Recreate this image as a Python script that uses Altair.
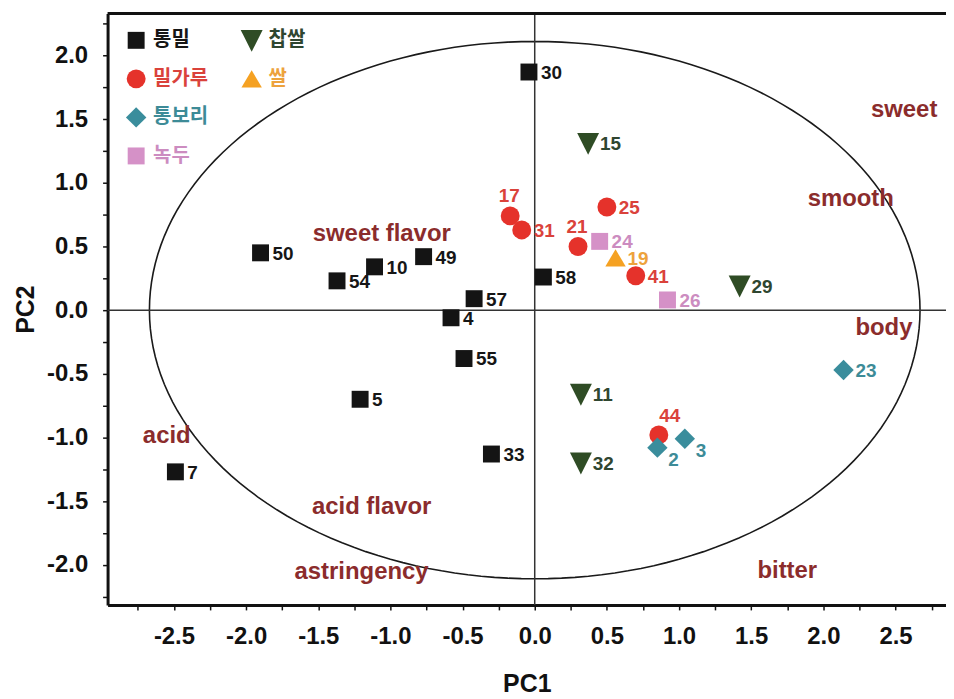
import altair as alt
import pandas as pd

# ---------------- data ----------------
ids = ["30", "50", "54", "10", "49", "57", "4", "55", "5", "58", "7", "33",
       "17", "31", "21", "25", "41", "44",
       "2", "3", "23",
       "24", "26",
       "15", "29", "11", "32",
       "19"]
groups = (["통밀"] * 12 + ["밀가루"] * 6 + ["통보리"] * 3 + ["녹두"] * 2
          + ["찹쌀"] * 4 + ["쌀"])
pc1 = [-0.04, -1.90, -1.37, -1.11, -0.77, -0.42, -0.58, -0.49, -1.21, 0.06, -2.49, -0.30,
       -0.17, -0.09, 0.30, 0.50, 0.70, 0.86,
       0.85, 1.04, 2.14,
       0.45, 0.92,
       0.37, 1.42, 0.32, 0.32,
       0.56]
pc2 = [1.87, 0.45, 0.23, 0.34, 0.42, 0.09, -0.06, -0.38, -0.70, 0.26, -1.27, -1.13,
       0.74, 0.63, 0.50, 0.81, 0.27, -0.98,
       -1.08, -1.01, -0.47,
       0.54, 0.08,
       1.31, 0.19, -0.66, -1.20,
       0.41]

# attribute loadings (text)
attr_names = ["sweet", "smooth", "body", "sweet flavor", "acid",
              "acid flavor", "astringency", "bitter"]
attr_pc1 = [2.56, 2.19, 2.42, -1.06, -2.55, -1.13, -1.20, 1.75]
attr_pc2 = [1.57, 0.87, -0.14, 0.60, -0.99, -1.55, -2.06, -2.05]

# legend
group_order = ["통밀", "밀가루", "통보리", "녹두", "찹쌀", "쌀"]
legend_col = [0, 0, 0, 0, 1, 1]
legend_row = [0, 1, 2, 3, 0, 1]

# ---------------- styles ----------------
marker_colors = ["#141414", "#e5322b", "#3a8d9c", "#d591c7", "#2f4c25", "#f5a122"]
label_colors = ["#161616", "#da423b", "#3d8b97", "#cc8cc0", "#2f4630", "#eda23c"]
shapes = ["square", "circle", "M-1,0L0,-1L1,0L0,1Z", "square",
          "M-1,-0.95L1,-0.95L0,1.05Z", "M0,-0.85L1,0.85L-1,0.85Z"]
sizes = [289, 361, 420, 289, 484, 420]
attr_color = "#8b2c2c"
FONT = "Liberation Sans"
KFONT = "Noto Sans CJK KR"

label_above = ["17", "21"]
label_above_right = ["44"]
label_below_right = ["2", "3"]

W, H = 842, 594
XDOM = [-2.96, 2.85]
YDOM = [-2.315, 2.33]

df = pd.DataFrame({"id": ids, "group": groups, "pc1": pc1, "pc2": pc2})
attr_df = pd.DataFrame({"name": attr_names, "pc1": attr_pc1, "pc2": attr_pc2})
leg_df = pd.DataFrame({"group": group_order, "col": legend_col, "row": legend_row})
zero_df = pd.DataFrame({"v": [0.0]})

xscale = alt.Scale(domain=XDOM, nice=False, zero=False)
yscale = alt.Scale(domain=YDOM, nice=False, zero=False)

lab_expr = ("abs(datum.value*2 - round(datum.value*2)) < 0.01 ? "
            "((datum.value < -0.001 ? '-' : '') + format(abs(datum.value), '.1f')) : ''")

xaxis = alt.Axis(values=[-2.75 + 0.25 * i for i in range(23)], labelPadding=15,
                 titlePadding=23, title="PC1", labelExpr=lab_expr)
yaxis = alt.Axis(values=[-2.25 + 0.25 * i for i in range(19)], labelPadding=15,
                 titlePadding=8, title="PC2", labelExpr=lab_expr)

gscale_marker = alt.Scale(domain=group_order, range=marker_colors)
gscale_label = alt.Scale(domain=group_order, range=label_colors)
shape_scale = alt.Scale(domain=group_order, range=shapes)

# per-group marker area, looked up from the style lists
size_expr = "{}[indexof({}, datum.group)]".format(
    "[" + ",".join(str(s) for s in sizes) + "]",
    "[" + ",".join("'" + g + "'" for g in group_order) + "]",
)


def X(field):
    return alt.X(field, scale=xscale, axis=xaxis, title="PC1")


def Y(field):
    return alt.Y(field, scale=yscale, axis=yaxis, title="PC2")


# ellipse (correlation circle drawn as ellipse)
ellipse = alt.Chart(alt.sequence(0, 361, 2, as_="t")).transform_calculate(
    ex="2.67*cos(datum.t*PI/180)", ey="2.11*sin(datum.t*PI/180)"
).mark_line(color="#1a1a1a", strokeWidth=1.6).encode(
    x=X("ex:Q"), y=Y("ey:Q"), order="t:Q",
)

# zero lines
vline = alt.Chart(zero_df).mark_rule(color="#333", strokeWidth=1.5).encode(x=X("v:Q"))
hline = alt.Chart(zero_df).mark_rule(color="#333", strokeWidth=1.5).encode(y=Y("v:Q"))

# top frame line
top_frame = alt.Chart(zero_df).mark_rule(color="#111", strokeWidth=3).encode(
    x=alt.value(0), x2=alt.value(W), y=alt.value(0))

points = alt.Chart(df).transform_calculate(sz=size_expr).mark_point(
    filled=True, opacity=1, strokeWidth=0
).encode(
    x=X("pc1:Q"), y=Y("pc2:Q"),
    color=alt.Color("group:N", scale=gscale_marker, legend=None),
    shape=alt.Shape("group:N", scale=shape_scale, legend=None),
    size=alt.Size("sz:Q", scale=None, legend=None),
)


def label_layer(flt, align, dx, dy):
    return alt.Chart(df).transform_filter(flt).mark_text(
        font=FONT, fontSize=19, fontWeight="bold", align=align, baseline="middle",
        dx=dx, dy=dy
    ).encode(
        x=X("pc1:Q"), y=Y("pc2:Q"),
        text="id:N",
        color=alt.Color("group:N", scale=gscale_label, legend=None),
    )


special = label_above + label_above_right + label_below_right
lab_right = label_layer(~alt.FieldOneOfPredicate(field="id", oneOf=special), "left", 12, 1)
lab_above = label_layer(alt.FieldOneOfPredicate(field="id", oneOf=label_above), "center", -1, -20)
lab_above_r = label_layer(alt.FieldOneOfPredicate(field="id", oneOf=label_above_right), "center", 11, -19)
lab_below_r = label_layer(alt.FieldOneOfPredicate(field="id", oneOf=label_below_right), "left", 11, 12)

attrs = alt.Chart(attr_df).mark_text(
    font=FONT, fontSize=24, fontWeight="bold", color=attr_color,
    align="center", baseline="middle"
).encode(
    x=X("pc1:Q"), y=Y("pc2:Q"),
    text="name:N",
)

# manual legend, laid out in the top-left corner
leg_base = alt.Chart(leg_df).transform_calculate(
    lx="28.7 + datum.col*116", ly="27 + datum.row*38.7", sz=size_expr
)
leg_marks = leg_base.mark_point(filled=True, opacity=1, strokeWidth=0).encode(
    x=alt.X("lx:Q", scale=None),
    y=alt.Y("ly:Q", scale=None),
    color=alt.Color("group:N", scale=gscale_marker, legend=None),
    shape=alt.Shape("group:N", scale=shape_scale, legend=None),
    size=alt.Size("sz:Q", scale=None, legend=None),
)
leg_text = leg_base.mark_text(
    font=KFONT, fontSize=20, fontWeight="bold", align="left", baseline="middle", dx=17
).encode(
    x=alt.X("lx:Q", scale=None),
    y=alt.Y("ly:Q", scale=None),
    text="group:N",
    color=alt.Color("group:N", scale=gscale_label, legend=None),
)

chart = alt.layer(
    ellipse, vline, hline, top_frame, points,
    lab_right, lab_above, lab_above_r, lab_below_r, attrs, leg_marks, leg_text
).resolve_scale(
    color="independent"
).properties(
    width=W, height=H,
    autosize=alt.AutoSizeParams(type="none"),
    padding={"left": 100, "top": 4, "right": 0, "bottom": 90},
).configure_view(stroke=None).configure_axis(
    labelFont=FONT, labelFontSize=24, labelFontWeight="bold",
    labelColor="#111", tickSize=5, tickWidth=1.5, tickColor="#111",
    domainColor="#111", domainWidth=3, grid=False, labelOverlap=False,
    labelFlush=False, titleFont=FONT, titleFontSize=25, titleFontWeight="bold",
    titleColor="#111",
)

chart.save("out.html", embed_options={"renderer": "svg", "actions": False})
